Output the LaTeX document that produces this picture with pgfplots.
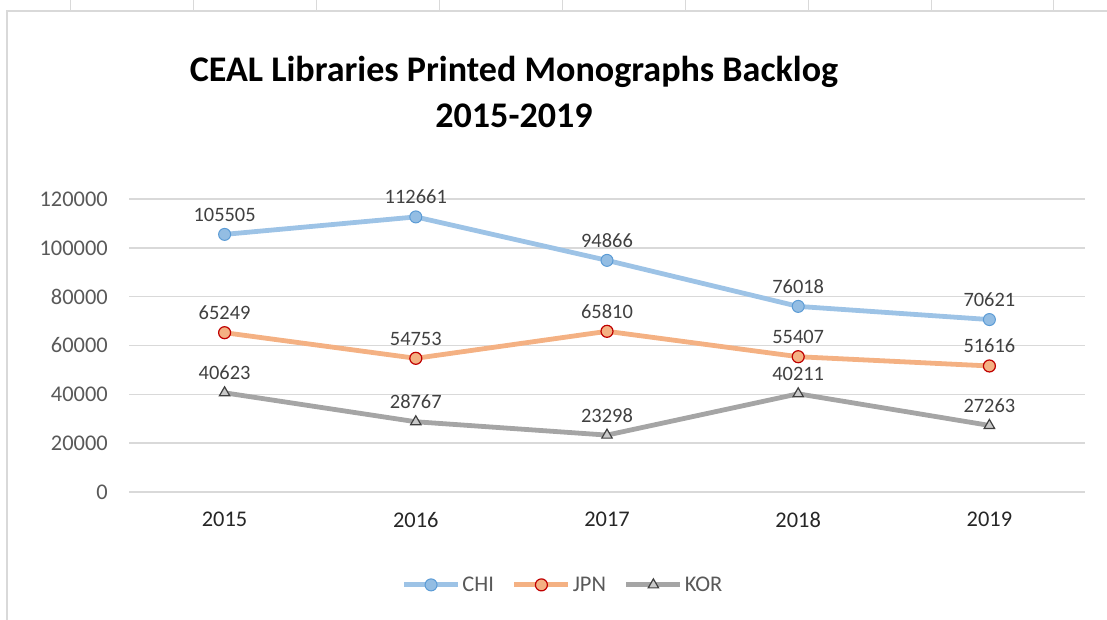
\documentclass[border=0pt]{standalone}
\usepackage{pgfplots}
\pgfplotsset{compat=1.18}
\usepackage{fontspec}
\setmainfont{Carlito}
\definecolor{gridc}{HTML}{D9D9D9}
\definecolor{tickc}{HTML}{595959}
\definecolor{labc}{HTML}{404040}
\definecolor{chiline}{HTML}{9DC3E6}
\definecolor{chimark}{HTML}{5B9BD5}
\definecolor{jpnline}{HTML}{F4B183}
\definecolor{jpnmark}{HTML}{C00000}
\definecolor{korline}{HTML}{A5A5A5}
\definecolor{kormark}{HTML}{404040}
\begin{document}
\begin{tikzpicture}
\useasboundingbox (0,0) rectangle (1107bp,620bp);
\draw[gridc, line width=1.5bp] (7bp,0) -- (7bp,609bp) -- (1107bp,609bp);
\foreach \x in {70,193,316,439,562,685,808,931,1053} \draw[gridc,line width=1bp] (\x bp,609bp) -- (\x bp,620bp);
\node[font=\fontsize{36.2}{40}\selectfont\bfseries, anchor=base] at (514bp,538bp) {CEAL Libraries Printed Monographs Backlog};
\node[font=\fontsize{36.2}{40}\selectfont\bfseries, anchor=base] at (514bp,492bp) {2015-2019};
\begin{axis}[
  at={(129bp,128bp)}, anchor=south west, scale only axis,
  width=956bp, height=293bp,
  xmin=-0.5, xmax=4.5, ymin=0, ymax=120000,
  xtick={0,1,2,3,4}, xticklabels={2015,2016,2017,2018,2019},
  ytick={0,20000,40000,60000,80000,100000,120000},
  scaled y ticks=false,
  ymajorgrids, major grid style={gridc, line width=1.5bp},
  axis line style={draw=none}, major tick length=0pt,
  /pgf/number format/assume math mode=true,
  /pgf/number format/fixed,
  /pgf/number format/precision=0,
  /pgf/number format/1000 sep={},
  ticklabel style={font=\fontsize{22.5}{26}\selectfont, text=tickc},
  yticklabel style={inner sep=0pt, anchor=east, xshift=-21bp},
  xticklabel style={inner sep=0pt, anchor=north, yshift=-20bp, text=black!85},
  clip=false,
  point meta=explicit symbolic,
  nodes near coords,
  every node near coord/.style={font=\fontsize{20.5}{24}\selectfont, text=labc, inner sep=0pt, anchor=base, yshift=13bp},
  legend columns=3,
  legend style={at={(0.454,-0.317)}, anchor=center, draw=none, fill=none,
    font=\fontsize{22.5}{26}\selectfont, text=tickc,
    /tikz/every even column/.append style={column sep=16bp},
    inner sep=0pt, cells={anchor=west}},
  legend image code/.code={\draw[mark repeat=2,mark phase=2] plot coordinates {(0bp,0bp)(27bp,0bp)(54bp,0bp)};},
]
\addplot[chiline, line width=4.8bp, mark=*, mark size=6bp, mark options={fill=chiline!85!chimark, draw=chimark, line width=1bp}]
  coordinates {(0,105505)[105505] (1,112661)[112661] (2,94866)[94866] (3,76018)[76018] (4,70621)[70621]};
\addlegendentry{CHI}
\addplot[jpnline, line width=4.8bp, mark=*, mark size=6bp, mark options={fill=jpnline, draw=jpnmark, line width=1.2bp}]
  coordinates {(0,65249)[65249] (1,54753)[54753] (2,65810)[65810] (3,55407)[55407] (4,51616)[51616]};
\addlegendentry{JPN}
\addplot[korline, line width=4.8bp, mark=triangle*, mark size=6bp, mark options={fill=korline!60!white, draw=kormark, line width=1.2bp}]
  coordinates {(0,40623)[40623] (1,28767)[28767] (2,23298)[23298] (3,40211)[40211] (4,27263)[27263]};
\addlegendentry{KOR}
\end{axis}
\end{tikzpicture}
\end{document}
